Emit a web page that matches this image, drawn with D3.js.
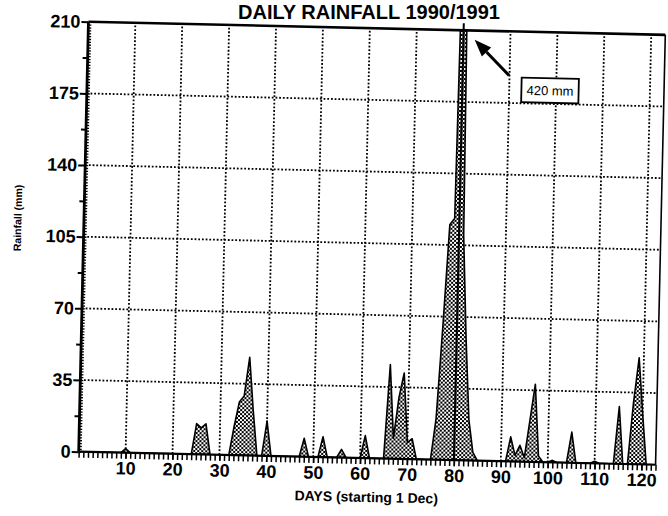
<!DOCTYPE html>
<html>
<head>
<meta charset="utf-8">
<script src="https://cdn.jsdelivr.net/npm/d3@7"></script>
<style>
  html, body { margin: 0; padding: 0; background: #fff; }
  svg { display: block; }
  text { font-family: "Liberation Sans", Arial, Helvetica, sans-serif; fill: #000; }
</style>
</head>
<body>
<svg id="chart" width="668" height="516"></svg>
<script>
// ---------------- DATA ----------------
const chartTitle = "DAILY RAINFALL 1990/1991";
const xAxisTitle = "DAYS (starting 1 Dec)";
const yAxisTitle = "Rainfall (mm)";

// day numbers 0..123 (days since 1 Dec)
const days = [
  0,1,2,3,4,5,6,7,8,9,
  10,11,12,13,14,15,16,17,18,19,
  20,21,22,23,24,25,26,27,28,29,
  30,31,32,33,34,35,36,37,38,39,
  40,41,42,43,44,45,46,47,48,49,
  50,51,52,53,54,55,56,57,58,59,
  60,61,62,63,64,65,66,67,68,69,
  70,71,72,73,74,75,76,77,78,79,
  80,81,82,83,84,85,86,87,88,89,
  90,91,92,93,94,95,96,97,98,99,
  100,101,102,103,104,105,106,107,108,109,
  110,111,112,113,114,115,116,117,118,119,
  120,121,122,123
];
// daily rainfall (mm)
const rainfall = [
  0,0,0,0,0,0,0,0,0,0,
  2,0,0,0,0,0,0,0,0,0,
  0,0,0,0,0,15,13,15,0,0,
  0,0,0,14,26,29,48,22,0,0,
  17,0,0,0,0,0,0,0,9,0,
  0,0,10,0,0,0,4,0,0,0,
  0,11,0,0,0,0,46,10,30,42,
  8,10,0,0,0,0,20,65,115,118,
  420,110,60,20,4,0,0,0,0,0,
  0,0,12,3,8,2,20,38,3,0,
  0,1,0,0,0,15,0,0,0,0,
  1,0,0,0,0,28,0,0,30,52,
  25,0,0,0
];

const xTickValues = [10,20,30,40,50,60,70,80,90,100,110,120];
const yTickValues = [0,35,70,105,140,175,210];
const yTickLabels = ["0","35","70","105","140","175","210"];
const yHalfTicks  = [17.5,52.5,87.5,122.5,157.5,192.5];

// annotation
const peakDay = 80;
const peakLabel = "420 mm";

// ---------------- LAYOUT ----------------
const W = 668, H = 516;
const plot = { left: 83.5, right: 660.5, top: 28.25, bottom: 458.25 };
const tilt = 1.3, cx = 372, cy = 243.25;   // slight skew of the scanned page
const font = '"Liberation Sans", Arial, Helvetica, sans-serif';

const x = d3.scaleLinear().domain([0, 123]).range([plot.left, plot.right]);
const y = d3.scaleLinear().domain([0, 210]).range([plot.bottom, plot.top]);

const svg = d3.select("#chart");
const defs = svg.append("defs");

// stipple pattern
const pat = defs.append("pattern").attr("id", "stip")
  .attr("patternUnits", "userSpaceOnUse").attr("width", 4).attr("height", 4);
pat.append("rect").attr("width", 4).attr("height", 4).attr("fill", "#fff");
pat.append("rect").attr("width", 2).attr("height", 2).attr("fill", "#000");
pat.append("rect").attr("x", 2).attr("y", 2).attr("width", 2).attr("height", 2).attr("fill", "#000");

defs.append("clipPath").attr("id", "plotClip").append("rect")
  .attr("x", plot.left).attr("y", plot.top)
  .attr("width", plot.right - plot.left).attr("height", plot.bottom - plot.top);

// title
svg.append("text")
  .attr("x", 369).attr("y", 19)
  .attr("text-anchor", "middle")
  .attr("font-size", 20).attr("font-weight", "bold")
  .text(chartTitle);

const g = svg.append("g").attr("transform", `rotate(${tilt},${cx},${cy})`);

// gridlines
const grid = g.append("g").attr("stroke", "#000").attr("stroke-width", 1.8)
  .attr("stroke-dasharray", "1.8,1.9").attr("fill", "none");
grid.selectAll("line.v").data(xTickValues).join("line").attr("class", "v")
  .attr("x1", d => x(d)).attr("x2", d => x(d))
  .attr("y1", y(0)).attr("y2", y(210));
grid.selectAll("line.h").data(yTickValues.filter(v => v > 0 && v < 210)).join("line").attr("class", "h")
  .attr("x1", x(0)).attr("x2", x(123))
  .attr("y1", d => y(d)).attr("y2", d => y(d));

// rainfall area
const series = days.map((d, i) => ({ day: d, value: rainfall[i] }));
const area = d3.area()
  .x(d => x(d.day)).y0(y(0)).y1(d => y(d.value))
  .curve(d3.curveLinear);
g.append("path").datum(series)
  .attr("clip-path", "url(#plotClip)")
  .attr("d", area)
  .attr("fill", "url(#stip)")
  .attr("stroke", "#000").attr("stroke-width", 1.6).attr("stroke-linejoin", "round");

// peak line (the 420 mm day runs off the scale)
g.append("line")
  .attr("x1", x(peakDay)).attr("x2", x(peakDay))
  .attr("y1", y(0)).attr("y2", y(210) - 7)
  .attr("stroke", "#000").attr("stroke-width", 2);

// frame: top and right
g.append("line").attr("x1", x(0)).attr("x2", x(123)).attr("y1", y(210)).attr("y2", y(210))
  .attr("stroke", "#000").attr("stroke-width", 2.6);
g.append("line").attr("x1", x(123)).attr("x2", x(123)).attr("y1", y(210)).attr("y2", y(0))
  .attr("stroke", "#000").attr("stroke-width", 1.6);

// x axis: daily ruler ticks
const xMinor = g.append("g").attr("transform", `translate(0,${y(0)})`)
  .call(d3.axisBottom(x).tickValues(days).tickSize(6).tickFormat(""));
xMinor.select(".domain").attr("stroke-width", 2.2).attr("d", `M${x(0)},0H${x(123)}`);
xMinor.selectAll(".tick line").attr("stroke-width", 1.5);

const xLab = g.append("g").attr("transform", `translate(0,${y(0)})`)
  .call(d3.axisBottom(x).tickValues(xTickValues).tickSize(6).tickPadding(3));
xLab.select(".domain").remove();
xLab.selectAll(".tick line").attr("stroke-width", 1.5);
xLab.selectAll("text").attr("font-size", 18).attr("font-weight", "bold").attr("font-family", font);

// y axis
const yInner = g.append("g").attr("transform", `translate(${x(0)},0)`)
  .call(d3.axisLeft(y).tickValues(d3.range(0, 210, 1.4)).tickSize(-3).tickFormat(""));
yInner.select(".domain").remove();
yInner.selectAll(".tick line").attr("stroke-width", 1.3);

const yHalf = g.append("g").attr("transform", `translate(${x(0)},0)`)
  .call(d3.axisLeft(y).tickValues(yHalfTicks).tickSize(5).tickFormat(""));
yHalf.select(".domain").remove();
yHalf.selectAll(".tick line").attr("stroke-width", 2);

const yMain = g.append("g").attr("transform", `translate(${x(0)},0)`)
  .call(d3.axisLeft(y).tickValues(yTickValues).tickSize(7).tickPadding(1)
        .tickFormat((d, i) => yTickLabels[i]));
yMain.select(".domain").attr("stroke-width", 2.8).attr("d", `M0,${y(210)}V${y(0)}`);
yMain.selectAll(".tick line").attr("stroke-width", 2);
yMain.selectAll("text").attr("font-size", 18).attr("font-weight", "bold").attr("font-family", font);

// axis titles
g.append("text")
  .attr("x", 372).attr("y", 502)
  .attr("text-anchor", "middle")
  .attr("font-size", 14).attr("font-weight", "bold")
  .text(xAxisTitle);
g.append("text")
  .attr("transform", "translate(21,226) rotate(-90)")
  .attr("text-anchor", "middle")
  .attr("font-size", 10.5).attr("font-weight", "bold")
  .text(yAxisTitle);

// annotation box + arrow
const bx0 = x(92.6), bx1 = x(104.8), by0 = y(187.5), by1 = y(175.5);
g.append("rect").attr("x", bx0).attr("y", by0)
  .attr("width", bx1 - bx0).attr("height", by1 - by0)
  .attr("fill", "#fff").attr("stroke", "#000").attr("stroke-width", 1.8);
g.append("text").attr("x", (bx0 + bx1) / 2).attr("y", (by0 + by1) / 2)
  .attr("dy", "0.36em").attr("text-anchor", "middle")
  .attr("font-size", 13).text(peakLabel);

const tail = [x(89.9), y(188.5)], tip = [x(82.4), y(205.5)];
const ang = Math.atan2(tip[1] - tail[1], tip[0] - tail[0]);
const hl = 17, hw = 6.5;
const base = [tip[0] - hl * Math.cos(ang), tip[1] - hl * Math.sin(ang)];
g.append("line").attr("x1", tail[0]).attr("y1", tail[1])
  .attr("x2", base[0]).attr("y2", base[1])
  .attr("stroke", "#000").attr("stroke-width", 3);
g.append("path").attr("d", d3.line()([
  tip,
  [base[0] + hw * Math.sin(ang), base[1] - hw * Math.cos(ang)],
  [base[0] - hw * Math.sin(ang), base[1] + hw * Math.cos(ang)]
]) + "Z").attr("fill", "#000");
</script>
</body>
</html>
